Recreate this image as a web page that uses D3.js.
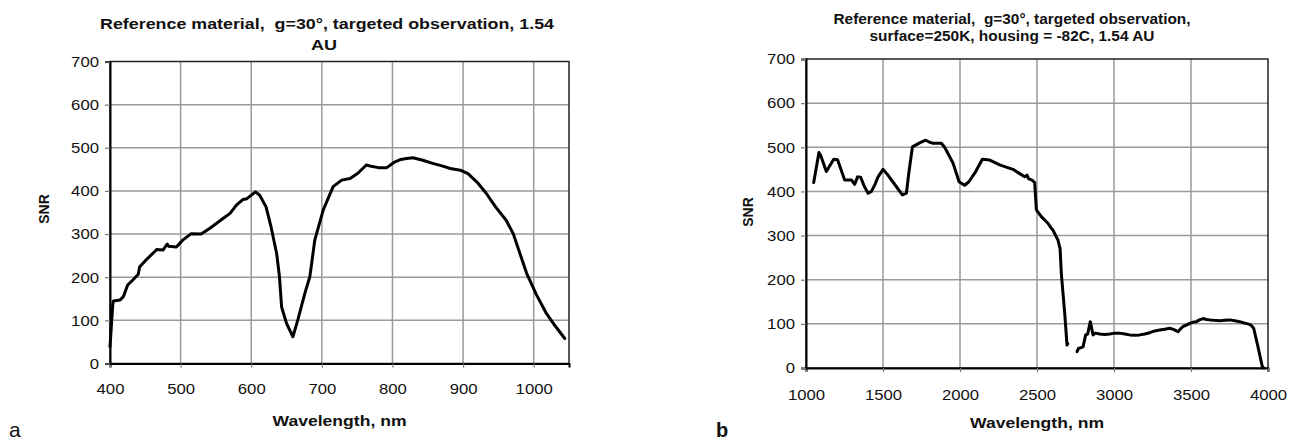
<!DOCTYPE html>
<html><head><meta charset="utf-8">
<script src="https://cdn.jsdelivr.net/npm/d3@7"></script>
<style>body{margin:0;background:#fff}svg{display:block}text{font-family:"Liberation Sans",Arial,sans-serif;fill:#111;white-space:pre}</style>
</head><body>
<svg id="c" width="1298" height="441"></svg>
<script>
// Panel a: visible/NIR channel
const waveA = [400,404,405,414,419,425,432,440,442,451,463,466,475,481,483,494,503,515,529,541,551,560,570,579,588,594,606,612,621,628,636,640,643,650,659,666,676,683,690,702,716,728,740,751,763,770,780,792,803,812,820,829,843,857,870,882,896,907,920,933,946,961,971,990,1004,1018,1030,1044];
const snrA  = [39,139,145,147,155,182,193,207,224,240,259,264,263,277,272,270,286,301,300,313,325,336,348,367,380,382,398,390,363,317,255,201,131,93,62,101,163,201,286,356,410,425,429,441,460,457,454,454,467,473,475,477,471,464,458,452,448,440,420,394,363,332,301,209,159,116,88,58];
// Panel b: IR channel, split in two segments (gap near 2700-2760 nm)
const waveB1 = [1050,1084,1095,1132,1180,1205,1251,1272,1295,1316,1335,1355,1378,1403,1425,1448,1468,1500,1532,1580,1626,1652,1667,1691,1738,1777,1800,1825,1879,1900,1922,1955,1994,2030,2058,2102,2145,2193,2258,2300,2344,2380,2420,2435,2445,2470,2485,2496,2528,2571,2590,2604,2636,2650,2658,2680,2695,2700];
const snrB1  = [420,488,482,445,473,472,426,426,426,416,433,432,412,396,400,416,433,450,437,414,392,396,440,501,510,516,512,509,509,500,486,464,422,414,422,445,473,471,460,455,450,442,433,437,429,425,420,358,343,328,318,312,290,270,214,124,52,55];
const waveB2 = [2760,2770,2777,2799,2816,2829,2846,2864,2880,2907,2940,2972,3005,3037,3070,3102,3135,3167,3200,3232,3265,3297,3330,3362,3390,3416,3430,3448,3470,3492,3515,3535,3555,3578,3600,3622,3650,3687,3720,3752,3785,3817,3845,3870,3890,3907,3935,3963,3972];
const snrB2  = [37,45,45,48,75,77,105,75,79,77,76,77,79,79,77,75,74,75,77,80,84,86,88,90,87,82,88,94,97,101,104,105,109,112,110,109,108,107,108,109,107,105,102,100,97,90,48,3,0];
const ticksY = [0,100,200,300,400,500,600,700];
const ticksXA = [400,500,600,700,800,900,1000];
const ticksXB = [1000,1500,2000,2500,3000,3500,4000];
const titleA = ["Reference material,  g=30°, targeted observation, 1.54","AU"];
const titleB = ["Reference material,  g=30°, targeted observation,","surface=250K, housing = -82C, 1.54 AU"];

const svg = d3.select("#c");

function panel(o){
  const g = svg.append("g");
  const x = d3.scaleLinear().domain(o.xdom).range([o.left,o.right]);
  const y = d3.scaleLinear().domain([0,700]).range([o.bottom,o.top]);
  // grid
  g.selectAll(".gy").data(ticksY.filter(d=>d>0&&d<700)).join("line")
    .attr("x1",o.left).attr("x2",o.right).attr("y1",d=>y(d)).attr("y2",d=>y(d))
    .attr("stroke","#9a9a9a").attr("stroke-width",1.5);
  g.selectAll(".gx").data(o.xticks.filter(d=>d>o.xdom[0]&&d<o.xdom[1])).join("line")
    .attr("y1",o.top).attr("y2",o.bottom).attr("x1",d=>x(d)).attr("x2",d=>x(d))
    .attr("stroke","#9a9a9a").attr("stroke-width",1.5);
  // frame
  g.append("rect").attr("x",o.left).attr("y",o.top).attr("width",o.right-o.left).attr("height",o.bottom-o.top)
    .attr("fill","none").attr("stroke","#222").attr("stroke-width",1.5);
  // axes
  const ax = g.append("g").attr("transform",`translate(0,${o.bottom})`)
    .call(d3.axisBottom(x).tickValues(o.xticks).tickSize(4).tickPadding(o.xpad).tickFormat(d3.format("d")));
  const ay = g.append("g").attr("transform",`translate(${o.left},0)`)
    .call(d3.axisLeft(y).tickValues(ticksY).tickSize(5).tickPadding(6).tickFormat(d3.format("d")));
  [ax,ay].forEach(a=>{
    a.select(".domain").attr("stroke","#000").attr("stroke-width",2);
    a.selectAll(".tick line").attr("stroke","#777").attr("stroke-width",1.2);
    a.selectAll(".tick text").attr("font-size",15).attr("font-family","Liberation Sans, Arial, sans-serif").attr("fill","#111")
      .attr("textLength",function(){return this.textContent.length*9.3;}).attr("lengthAdjust","spacingAndGlyphs");
  });
  // lines
  const line = d3.line().x(d=>x(d[0])).y(d=>y(d[1])).curve(d3.curveLinear);
  o.series.forEach(s=>{
    g.append("path").datum(d3.zip(s[0],s[1])).attr("d",line)
      .attr("fill","none").attr("stroke","#000").attr("stroke-width",3).attr("stroke-linejoin","round").attr("stroke-linecap","round");
  });
  // titles
  o.title.forEach((s,i)=>{
    const L = o.tlines[i];
    g.append("text").attr("x",L.x).attr("y",L.y).attr("text-anchor","middle")
      .attr("font-weight","bold").attr("font-size",15)
      .attr("textLength",L.w).attr("lengthAdjust","spacingAndGlyphs").text(s);
  });
  g.append("text").attr("x",o.xtx).attr("y",o.bottom+o.xtdy).attr("text-anchor","middle")
    .attr("font-weight","bold").attr("font-size",14.5).attr("textLength",134).attr("lengthAdjust","spacingAndGlyphs").text("Wavelength, nm");
  g.append("text").attr("transform",`translate(${o.snrx},${o.snry}) rotate(-90)`)
    .attr("text-anchor","middle").attr("font-weight","bold").attr("font-size",14).text("SNR");
  g.append("text").attr("x",o.lx).attr("y",o.ly).attr("font-size",o.lsize).attr("font-weight",o.lw).text(o.label);
}

panel({xdom:[400,1050],left:110,right:569,top:61.5,bottom:363.5,xticks:ticksXA,xpad:16,
  series:[[waveA,snrA]],title:titleA,
  tlines:[{x:327,y:28.5,w:454},{x:324,y:50,w:26}],
  xtx:339.5,xtdy:62.5,snrx:49,snry:209,label:"a",lsize:21,lx:9,ly:436.5,lw:"normal"});
panel({xdom:[1000,4000],left:806,right:1268,top:59,bottom:368,xticks:ticksXB,xpad:17,
  series:[[waveB1,snrB1],[waveB2,snrB2]],title:titleB,
  tlines:[{x:1012,y:24,w:357},{x:1012,y:41,w:285}],
  xtx:1037,xtdy:60,snrx:753,snry:212,label:"b",lsize:20,lx:716,ly:436.5,lw:"bold"});
</script>
</body></html>
